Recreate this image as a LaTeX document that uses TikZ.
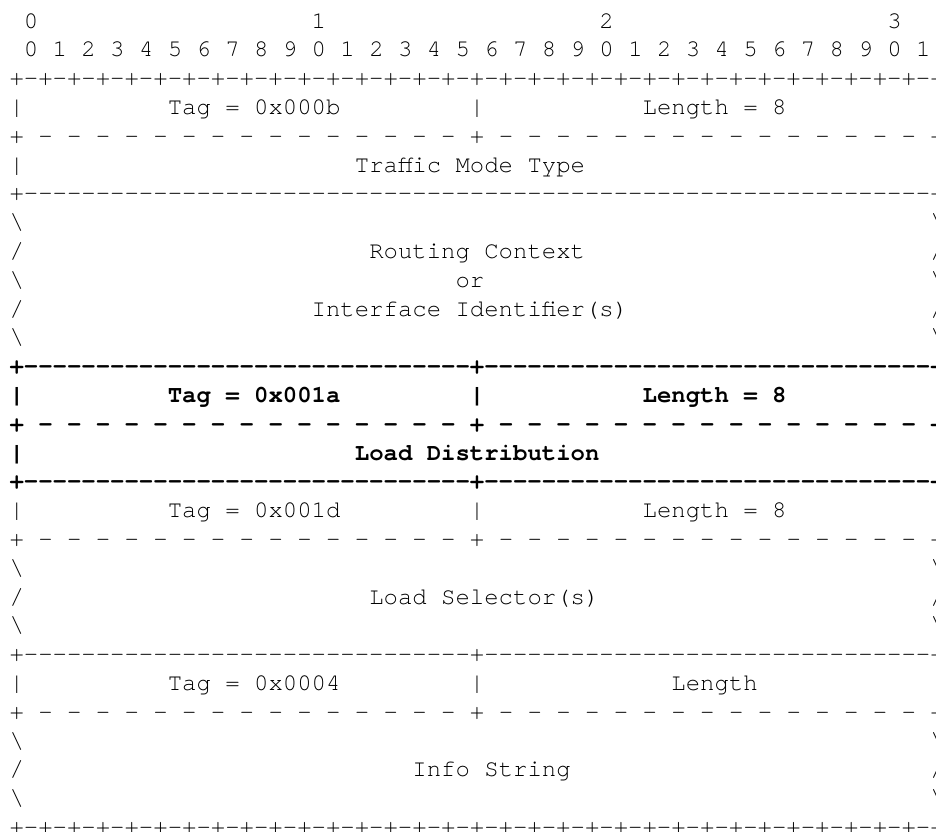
\documentclass[tikz,border=0pt]{standalone}
\usepackage{fontspec}
\setmonofont{texgyrecursor}[Extension=.otf, UprightFont=*-regular, BoldFont=*-bold]
\newcommand\asciitext{\ttfamily\fontsize{23.98pt}{28.8pt}\selectfont}
\newcommand\hyphens[1]{\foreach \k in {1,...,#1}{-}}
\tikzset{asc/.style={anchor=base west, inner sep=0pt, outer sep=0pt, font=\asciitext},
  bsc/.style={asc, font=\asciitext\bfseries}}

\begin{document}
\begin{tikzpicture}[x=14.39pt, y=-28.8pt]
\useasboundingbox (0pt,0pt) rectangle (936pt,-831pt);
\clip (0pt,0pt) rectangle (936pt,-831pt);
\begin{scope}[shift={(9.5pt,-28pt)}]
% bit numbers
\foreach \i in {0,...,3} \node[asc] (oct\i) at ({20*\i+1},0) {\i};
\foreach \i [evaluate=\i as \d using {int(mod(\i,10))}] in {0,...,31}
  \node[asc] (bit\i) at ({2*\i+1},1) {\d};

% borders
\node[asc] (top) at (0,2) {\foreach \k in {1,...,32}{+-}+};
\node[asc] (rule6) at (0,6) {+\hyphens{63}+};
\node[bsc] (rule12) at (0,12) {+\hyphens{31}+\hyphens{31}+};
\node[bsc] (rule16) at (0,16) {+\hyphens{31}+\hyphens{31}+};
\node[asc] (rule22) at (0,22) {+\hyphens{31}+\hyphens{31}+};
\node[asc] (bottom) at (0,28) {\foreach \k in {1,...,32}{+-}+};
\foreach \r in {4,18,24} {
  \node[asc] (pl\r) at (0,\r) {+};
  \node[asc] (pm\r) at (32,\r) {+};
  \node[asc] (pr\r) at (64,\r) {+};
  \foreach \c in {1,...,15} {
    \node[asc] (dl\r-\c) at ({2*\c},\r) {-};
    \node[asc] (dr\r-\c) at ({2*\c+32},\r) {-};
  }
}
\node[bsc] (pl14) at (0,14) {+};
\node[bsc] (pm14) at (32,14) {+};
\node[bsc] (pr14) at (64,14) {+};
\foreach \c in {1,...,15} {
  \node[bsc] (dl14-\c) at ({2*\c},14) {-};
  \node[bsc] (dr14-\c) at ({2*\c+32},14) {-};
}

% sides
\foreach \r in {3,5,17,23} {
  \node[asc] (l\r) at (0,\r) {|};
  \node[asc] (r\r) at (64,\r) {|};
}
\foreach \r in {13,15} {
  \node[bsc] (l\r) at (0,\r) {|};
  \node[bsc] (r\r) at (64,\r) {|};
}
\foreach \r in {3,17,23} \node[asc] (m\r) at (32,\r) {|};
\node[bsc] (m13) at (32,13) {|};
\foreach \r in {7,9,11,19,21,25,27} {
  \node[asc] (l\r) at (0,\r) {\textbackslash};
  \node[asc] (r\r) at (64,\r) {\textbackslash};
}
\foreach \r in {8,10,20,26} {
  \node[asc] (l\r) at (0,\r) {/};
  \node[asc] (r\r) at (64,\r) {/};
}

% fields
\node[asc] (tagmode) at (11,3) {Tag = 0x000b};
\node[asc] (lenmode) at (44,3) {Length = 8};
\node[asc] (mode) at (24,5) {Traffic Mode Type};
\node[asc] (rc) at (25,8) {Routing Context};
\node[asc] (or) at (31,9) {or};
\node[asc] (iid) at (21,10) {Interface Identifier(s)};
\node[bsc] (tagload) at (11,13) {Tag = 0x001a};
\node[bsc] (lenload) at (44,13) {Length = 8};
\node[bsc] (load) at (24,15) {Load Distribution};
\node[asc] (tagsel) at (11,17) {Tag = 0x001d};
\node[asc] (lensel) at (44,17) {Length = 8};
\node[asc] (sel) at (25,20) {Load Selector(s)};
\node[asc] (taginfo) at (11,23) {Tag = 0x0004};
\node[asc] (leninfo) at (46,23) {Length};
\node[asc] (info) at (28,26) {Info String};
\end{scope}
\end{tikzpicture}
\end{document}
